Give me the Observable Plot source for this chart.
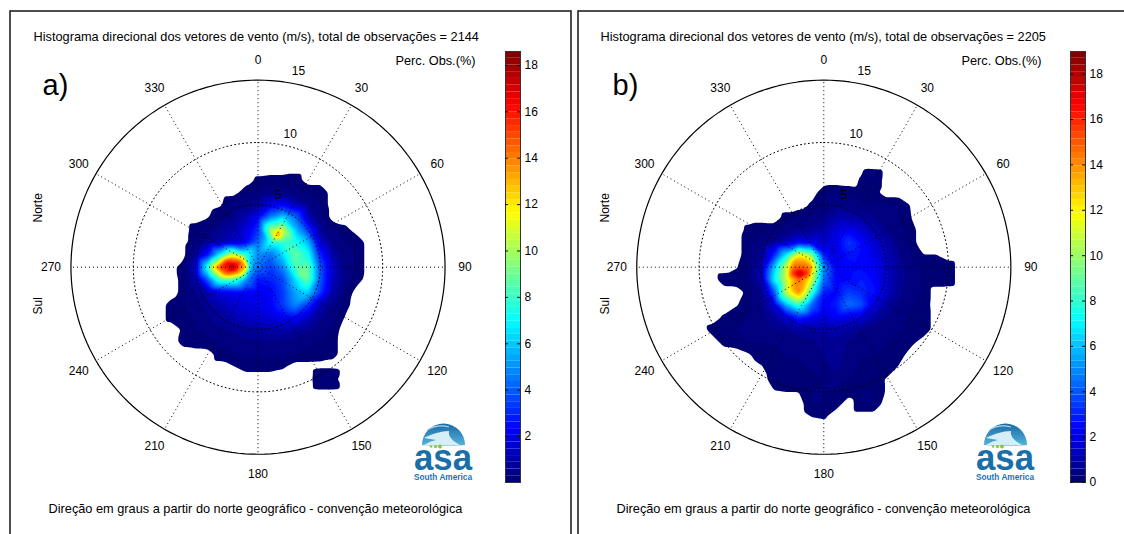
<!DOCTYPE html>
<html><head><meta charset="utf-8">
<style>
html,body{margin:0;padding:0;background:#fff;overflow:hidden;width:1124px;height:534px}
#c{position:relative;width:1124px;height:534px;overflow:hidden}
#c>*{position:absolute;top:0}
</style>
<script src="https://cdn.jsdelivr.net/npm/d3@7"></script>
<script src="https://cdn.jsdelivr.net/npm/@observablehq/plot@0.6"></script>
</head><body><div id="c"></div>
<script>
const angles=[0,30,60,90,120,150,180,210,240,270,300,330];
const radii=[5,10,15];
const titleA="Histograma direcional dos vetores de vento (m/s), total de observações = 2144";
const titleB="Histograma direcional dos vetores de vento (m/s), total de observações = 2205";
const caption="Direção em graus a partir do norte geográfico - convenção meteorológica";
const xsA=[-8,-7,-6,-5,-4,-3,-2,-1,0,1,2,3,4,5,6,7,8,9];
const ysA=[8,7,6,5,4,3,2,1,0,-1,-2,-3,-4,-5,-6,-7,-8,-9,-10];
const gridA=[
[0,0,0,0,0,0,0,0,0,0,0,0,0,0,0,0,0,0],
[0,0,0,0,0,0,0,0,.17,.2,.2,.24,0,0,0,0,0,0],
[0,0,0,0,0,0,0,.25,.35,.45,.45,.35,.3,.3,0,0,0,0],
[0,0,0,0,0,.08,.4,.5,.8,2,2.4,1.5,.6,.3,0,0,0,0],
[0,0,0,0,.1,.35,.6,1.2,2.4,5,6.5,4.5,1.3,.4,0,0,0,0],
[0,0,0,.25,.4,.7,1.1,1.8,3.3,10,11,6,3.5,.9,.35,.2,0,0],
[0,0,0,.3,.7,1,1.5,2.3,4.3,7.5,8,7.5,6,1.6,.5,.3,.25,0],
[0,0,0,.7,2.7,7,11,8,5,4.5,6.5,9,7.5,3,1,.4,.25,0],
[0,0,.25,1.7,8,16,18.6,13.5,4.5,3.5,5,8.5,9,4,1.5,.45,.25,0],
[0,0,.2,1,4.3,8.5,8.5,5.3,2.8,3,3.8,6.5,9,4,1.4,.5,.2,0],
[0,0,.2,.6,1.2,2,2.3,2.3,2.2,2.4,3.5,5.5,6.5,3.5,1.1,.3,0,0],
[0,.2,.3,.45,.8,1.2,1.7,1.9,2.1,2.4,3.5,5,3.5,1.3,.6,.2,0,0],
[0,.2,.25,.35,.55,.9,1.2,1.5,1.7,1.9,2.2,2.6,1.6,.7,.4,.1,0,0],
[0,0,.15,.3,.35,.5,.7,.9,1,1.1,1.1,1,.7,.45,.25,0,0,0],
[0,0,.2,.25,.3,.35,.4,.5,.55,.55,.5,.45,.35,.3,.2,0,0,0],
[0,0,0,0,0,.25,.3,.35,.35,.35,.35,.3,.3,.28,.2,0,0,0],
[0,0,0,0,0,0,.1,.2,.2,.2,.15,0,0,0,0,0,0,0],
[0,0,0,0,0,0,0,0,0,0,0,0,0,.35,.18,0,0,0],
[0,0,0,0,0,0,0,0,0,0,0,0,0,0,0,0,0,0]];
const extraA=[[-2.5,.4,16.5],[-1.5,.4,15.5],[-2.5,-.5,15],[-1.5,-.5,13],[-3.5,0,12.5],[-.6,0,6],[1.66,2.67,14.5],[3.4,-.5,9.5],
[5,-8.3,.3],[5.9,-8.3,.3],[5,-9.5,.3],[5.9,-9.5,.3],[5.4,-8.9,.4]];
const xsB=[-10,-9,-8,-7,-6,-5,-4,-3,-2,-1,0,1,2,3,4,5,6,7,8,9,10,11];
const ysB=[8,7,6,5,4,3,2,1,0,-1,-2,-3,-4,-5,-6,-7,-8,-9,-10,-11,-12,-13];
const gridB=[
[0,0,0,0,0,0,0,0,0,0,0,0,0,0,0,0,0,0,0,0,0,0],
[0,0,0,0,0,0,0,0,0,0,0,0,0,.15,.35,0,0,0,0,0,0,0],
[0,0,0,0,0,0,0,0,0,0,.25,.3,.25,.2,.2,0,0,0,0,0,0,0],
[0,0,0,0,0,0,0,0,0,.15,.3,.5,.5,.35,.3,.3,.3,.1,0,0,0,0],
[0,0,0,0,0,0,0,.2,.3,.35,.6,1.1,1.2,.9,.6,.4,.3,.12,0,0,0,0],
[0,0,0,0,.2,.28,.25,.4,.6,.7,1.2,1.8,2.3,1.8,1.1,.6,.35,.2,0,0,0,0],
[0,0,0,0,.3,.3,.7,1.4,2.3,2,1.6,2.2,3.5,2.6,1.8,1.1,.45,.2,0,0,0,0],
[0,0,0,0,.3,.7,3,7,12,10,3,2,2.8,2.6,2.1,1.4,.6,.3,.12,.12,0,0],
[0,0,0,.1,.3,1.2,6,11,15,14,5,2.3,2.5,2.6,2.4,1.6,.8,.35,.28,.28,.25,0],
[0,0,.25,.28,.3,1.2,7,11,15,11.5,4.5,2.4,2.6,3,2.6,1.6,.8,.35,.28,.28,.25,0],
[0,0,0,0,.2,.6,4,11,14.5,8.5,3,2.5,3.6,3.2,2.8,1.6,.7,.35,.28,0,0,0],
[0,0,0,.1,.25,.5,2,6,8.5,4.5,2.4,3,4.6,4,2,1,.5,.3,.25,0,0,0],
[0,0,.15,.25,.3,.45,.9,1.9,3.3,2.4,1.9,2.4,2.1,2,1,.6,.4,.28,.28,0,0,0],
[0,.2,.28,.3,.3,.4,.55,.7,.9,.9,.9,1.1,.9,.6,.45,.35,.3,.28,.28,0,0,0],
[0,0,.2,.25,.3,.3,.3,.35,.4,.5,.7,.8,.55,.4,.3,.3,.25,.2,0,0,0,0],
[0,0,0,0,.1,.25,.28,.3,.3,.35,.6,.8,.45,.3,.3,.28,.25,0,0,0,0,0],
[0,0,0,0,0,.1,.28,.28,.28,.3,.45,.7,.35,.28,.28,.28,.1,0,0,0,0,0],
[0,0,0,0,0,0,.25,.28,.28,.28,.3,.4,.3,.25,.2,.1,0,0,0,0,0,0],
[0,0,0,0,0,0,.1,.12,.12,.3,.3,.25,.2,.3,.3,.1,0,0,0,0,0,0],
[0,0,0,0,0,0,0,0,0,.3,.3,.2,0,.3,.3,0,0,0,0,0,0,0],
[0,0,0,0,0,0,0,0,0,.12,.15,0,0,0,0,0,0,0,0,0,0,0],
[0,0,0,0,0,0,0,0,0,0,0,0,0,0,0,0,0,0,0,0,0,0]];
const extraB=[[-1.9,-.5,18.8],[-2.5,-.5,16],[-1.3,-.5,16],[-2.4,.4,14],[-1.5,.4,14],[-2.4,-1.5,14],[-1.6,-1.6,13.5],
[3.5,7.7,.3],[4.3,7.6,.3]];
const ticksA=[2,4,6,8,10,12,14,16,18];
const ticksB=[0,2,4,6,8,10,12,14,16,18];

const FONT="'Liberation Sans',Arial,sans-serif";
const UNIT=12.47, CY=266.7, STOPS=[0,.125,.375,.625,.875,1];
const JET=["#00006e","#0000ff","#00ffff","#ffff00","#ff0000","#7a0000"];
const colorOf=(lo,hi)=>({type:"linear",domain:STOPS.map(s=>lo+s*(hi-lo)),range:JET,interpolate:"rgb",clamp:true});
const polar=(a,r)=>({x:r*Math.sin(a*Math.PI/180),y:r*Math.cos(a*Math.PI/180)});
let uid=0;
function logo(ox){return ()=>{
  const id="g"+(++uid), g=document.createElementNS("http://www.w3.org/2000/svg","g");
  g.setAttribute("transform",`translate(${ox},0)`);
  g.innerHTML=`<defs><linearGradient id="${id}" x1="0" y1="0" x2="0" y2="1"><stop offset="0" stop-color="#1a6aa5"/><stop offset="1" stop-color="#58b4da"/></linearGradient></defs>
  <path d="M422 445A21.5 21.5 0 0 1 465 445Q443 447 422 445Z" fill="url(#${id})"/>
  <path d="M424 438C432 434 441 431 449 431C448 437 453 441 460 445Q440 446 424 445Q430 441 436 440Q430 439 424 438Z" fill="#d6eef7"/>
  <path d="M427 430C434 426 442 425 449 427" fill="none" stroke="#a9d6ea" stroke-width="1.2"/>
  <circle cx="431" cy="446.5" r="1.2" fill="#8cc63f"/><circle cx="435.5" cy="446.5" r="1.6" fill="#8cc63f"/><circle cx="440" cy="446.5" r="2" fill="#8cc63f"/>
  <text x="414" y="470" text-anchor="start" font-family="${FONT}" font-weight="bold" font-size="37" fill="#1b6fa9" textLength="58" lengthAdjust="spacingAndGlyphs">asa</text>
  <text x="414" y="480" text-anchor="start" font-family="${FONT}" font-weight="bold" font-size="9.5" fill="#1c72b8" textLength="58" lengthAdjust="spacingAndGlyphs">South America</text>`;
  return g;
};}
const labelDx={5:4,10:0,15:-8}, labelDy={5:-12,10:-13,15:-15};
function panel(o){
  const pts=[];
  o.ys.forEach((y,i)=>o.xs.forEach((x,j)=>pts.push({x,y,v:o.grid[i][j]??0})));
  o.extra.forEach(([x,y,v])=>pts.push({x,y,v}));
  const thresholds=[.12,...d3.range(1,64).map(k=>o.lo+k*(o.hi-o.lo)/64)];
  const ring=radii.flatMap(r=>d3.range(0,361,2).map(a=>({r,...polar(a,r)})));
  const W=o.width,H=534;
  const t=(s,extra)=>Plot.text([s],{text:d=>d,fill:"black",fontSize:12.75,...extra});
  return Plot.plot({width:W,height:H,margin:0,style:{fontFamily:FONT,background:"transparent"},
    x:{domain:[-o.cx/UNIT,(W-o.cx)/UNIT],axis:null},
    y:{domain:[-(H-CY)/UNIT,CY/UNIT],axis:null},
    color:colorOf(o.lo,o.hi),
    marks:[
      Plot.frame({stroke:"#222",strokeWidth:1.6,insetLeft:o.frameL,insetTop:10.5,insetRight:o.frameR,insetBottom:-6}),
      Plot.contour(pts,{x:"x",y:"y",fill:"v",interpolate:"barycentric",thresholds,pixelSize:1,blur:1,stroke:"none"}),
      Plot.line(ring.filter(d=>d.r<15),{x:"x",y:"y",z:"r",stroke:"black",strokeWidth:1,strokeDasharray:"1,3"}),
      Plot.link(angles,{x1:0,y1:0,x2:a=>polar(a,15).x,y2:a=>polar(a,15).y,stroke:"black",strokeWidth:1,strokeDasharray:"1,3"}),
      Plot.line(ring.filter(d=>d.r==15),{x:"x",y:"y",stroke:"black",strokeWidth:1.2}),
      Plot.text(angles,{x:a=>polar(a,16.6).x,y:a=>polar(a,16.6).y,text:a=>String(a),fill:"black",fontSize:12}),
      ...radii.map(r=>Plot.text([r],{x:r=>polar(15,r).x,y:r=>polar(15,r).y,text:r=>String(r),fill:"black",fontSize:12,dx:labelDx[r],dy:labelDy[r]})),
      t(o.title,{frameAnchor:"top-left",dx:o.titleX,dy:36,lineAnchor:"middle"}),
      t("Perc. Obs.(%)",{frameAnchor:"top-left",dx:o.percX,dy:60,lineAnchor:"middle",textAnchor:"end"}),
      t(o.letter,{frameAnchor:"top-left",dx:o.letterX,dy:85,lineAnchor:"middle",fontSize:29}),
      t("Norte",{frameAnchor:"top-left",dx:o.sideX,dy:222,rotate:-90,lineAnchor:"middle",fontSize:12}),
      t("Sul",{frameAnchor:"top-left",dx:o.sideX,dy:314,rotate:-90,lineAnchor:"middle",fontSize:12}),
      t(caption,{frameAnchor:"top-left",dx:o.capX,dy:508,lineAnchor:"middle"}),
      logo(o.logoX)
    ]});
}
function colorbar(o){
  const levels=d3.range(64);
  const s=(o.hi-o.lo)/64;
  return Plot.plot({width:50,height:534,marginTop:51,marginBottom:52,marginLeft:1,marginRight:34,
    style:{fontFamily:FONT,background:"transparent"},
    x:{domain:[0,1],axis:null},
    y:{domain:[o.lo,o.hi],axis:null},
    color:colorOf(o.lo,o.hi),
    marks:[
      Plot.rect(levels,{x1:0,x2:1,y1:k=>o.lo+k*s,y2:k=>o.lo+(k+1)*s,fill:k=>o.lo+(k+.5)*s}),
      Plot.frame({stroke:"#333",strokeWidth:1}),
      Plot.ruleY(o.ticks,{x1:0,x2:.2,stroke:"#111",strokeWidth:1}),
      Plot.ruleY(o.ticks,{x1:.8,x2:1,stroke:"#111",strokeWidth:1}),
      Plot.text(o.ticks,{x:1,y:d=>d,text:d=>String(d),textAnchor:"start",dx:4,fill:"black",fontSize:12})
    ]});
}
const c=document.getElementById("c");
function put(node,left){node.style.left=left+"px";c.appendChild(node);}
put(panel({xs:xsA,ys:ysA,grid:gridA,extra:extraA,lo:.02,hi:18.6,width:574,cx:257.5,frameL:9.5,frameR:3.5,
  title:titleA,titleX:33,percX:475,letter:"a)",letterX:42,sideX:38,capX:48,logoX:0}),0);
put(panel({xs:xsB,ys:ysB,grid:gridB,extra:extraB,lo:0,hi:19,width:550,cx:249.3,frameL:3.5,frameR:-6,
  title:titleB,titleX:26,percX:467,letter:"b)",letterX:38,sideX:31,capX:42,logoX:-12}),574);
put(colorbar({lo:.02,hi:18.6,ticks:ticksA}),504);
put(colorbar({lo:0,hi:19,ticks:ticksB}),1069);
</script></body></html>
